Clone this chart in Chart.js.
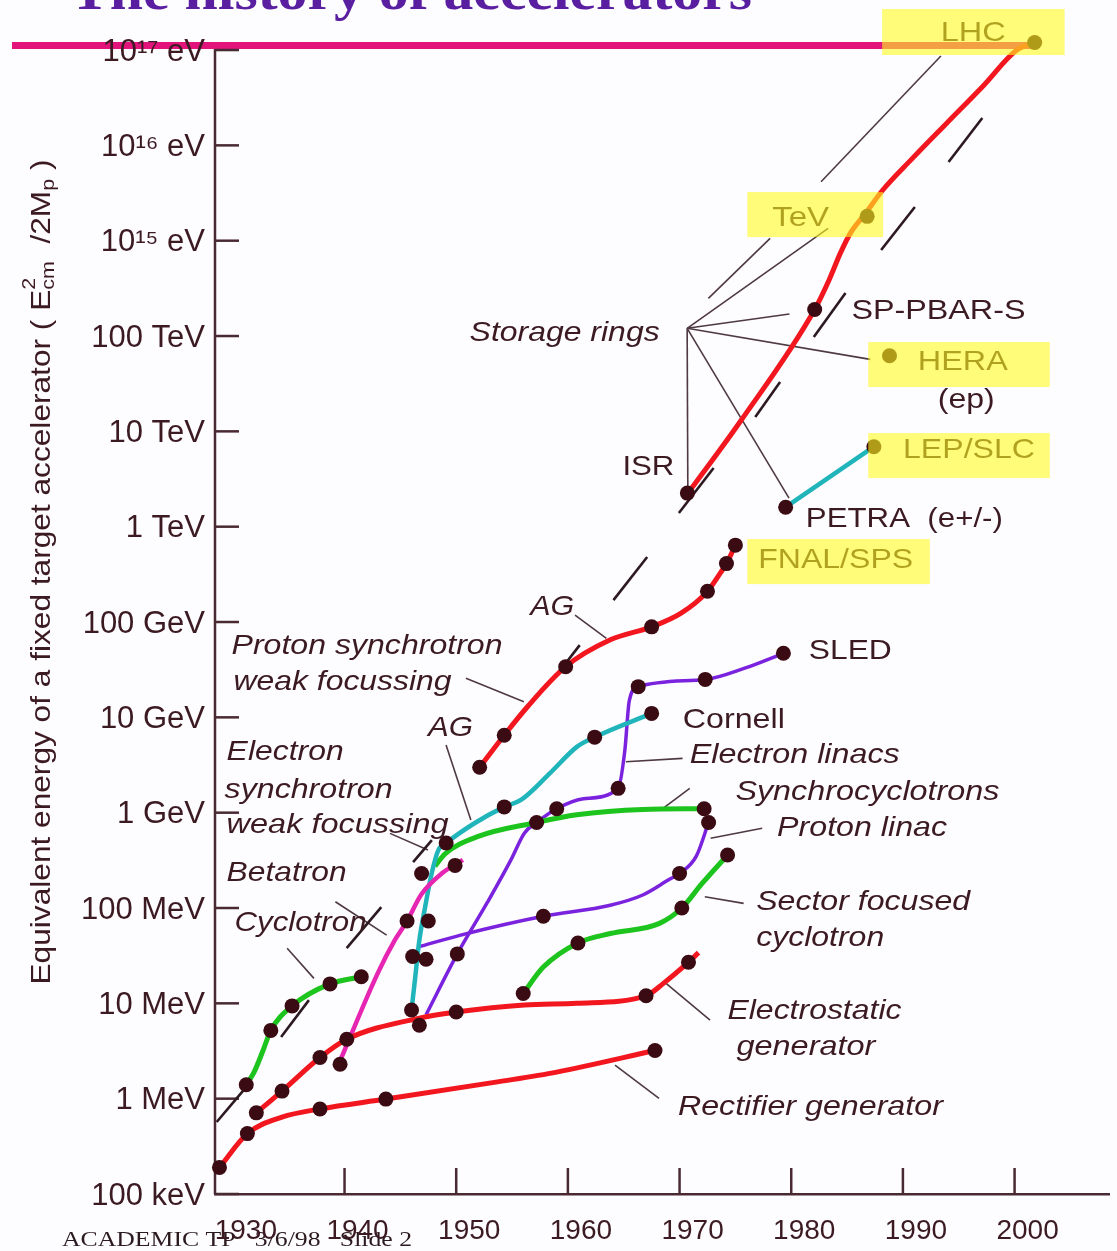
<!DOCTYPE html>
<html>
<head>
<meta charset="utf-8">
<title>The history of accelerators</title>
<script src="https://cdn.jsdelivr.net/npm/chart.js@4.4.1/dist/chart.umd.min.js"></script>
<style>
  html, body { margin: 0; padding: 0; background: #fdfcfe; }
</style>
</head>
<body>
<canvas id="chart" width="1117" height="1251"></canvas>
<script>
// Axis ticks: year along x, equivalent fixed-target energy (eV) along y
const yearTicks = [1930, 1940, 1950, 1960, 1970, 1980, 1990, 2000];
const energyTicks = [1e5, 1e6, 1e7, 1e8, 1e9, 1e10, 1e11, 1e12, 1e13, 1e14, 1e15, 1e16, 1e17];
const energyTickLabels = ['100 keV', '1 MeV', '10 MeV', '100 MeV', '1 GeV', '10 GeV', '100 GeV',
  '1 TeV', '10 TeV', '100 TeV', '10\u00b9\u2075 eV', '10\u00b9\u2076 eV', '10\u00b9\u2077 eV'];

// Each curve is [year, energy in eV]; the *Dots arrays are the machines marked on it
const rectifierCurve = [[1928.8, 1.9e5], [1931.3, 4.3e5], [1934.4, 6.4e5], [1937.8, 7.8e5], [1943.7, 9.9e5], [1953.7, 1.5e6], [1959.0, 1.9e6], [1967.8, 3.2e6]];
const rectifierDots = [[1928.8, 1.9e5], [1931.3, 4.3e5], [1937.8, 7.8e5], [1943.7, 9.9e5], [1967.8, 3.2e6]];

const electrostaticCurve = [[1932.1, 7.1e5], [1934.4, 1.2e6], [1937.8, 2.7e6], [1940.2, 4.2e6], [1946.7, 7.0e6], [1950.0, 8.1e6], [1956.1, 9.6e6], [1960.8, 1.0e7], [1967.0, 1.2e7], [1968.5, 1.6e7], [1970.8, 2.7e7], [1971.7, 3.4e7]];
const electrostaticDots = [[1932.1, 7.1e5], [1934.4, 1.2e6], [1937.8, 2.7e6], [1940.2, 4.2e6], [1946.7, 5.9e6], [1950.0, 8.1e6], [1967.0, 1.2e7], [1970.8, 2.7e7]];

const cyclotronCurve = [[1931.2, 1.4e6], [1931.9, 1.9e6], [1932.7, 3.2e6], [1933.4, 5.2e6], [1935.3, 9.4e6], [1938.7, 1.6e7], [1941.5, 1.9e7]];
const cyclotronDots = [[1931.2, 1.4e6], [1933.4, 5.2e6], [1935.3, 9.4e6], [1938.7, 1.6e7], [1941.5, 1.9e7]];

const betatronCurve = [[1939.6, 2.5e6], [1943.0, 2.1e7], [1944.5, 4.6e7], [1945.6, 7.3e7], [1946.9, 1.4e8], [1948.7, 2.3e8], [1950.6, 3.2e8]];
const betatronDots = [[1939.6, 2.3e6], [1945.6, 7.3e7], [1946.9, 2.3e8], [1949.9, 2.8e8]];

const electronSynchrotronCurve = [[1946.0, 8.5e6], [1946.3, 1.75e7], [1946.7, 4.6e7], [1947.2, 1.0e8], [1947.8, 2.3e8], [1948.4, 4.05e8], [1949.1, 4.8e8], [1951.6, 7.7e8], [1954.3, 1.15e9], [1955.8, 1.36e9], [1958.4, 2.6e9], [1960.8, 4.9e9], [1962.4, 6.2e9], [1967.5, 1.1e10]];
const electronSynchrotronDots = [[1946.0, 8.5e6], [1946.1, 3.1e7], [1947.3, 2.9e7], [1947.5, 7.3e7], [1949.1, 4.8e8], [1954.3, 1.15e9], [1962.4, 6.2e9], [1967.5, 1.1e10]];

const synchrocyclotronCurve = [[1948.1, 2.75e8], [1949.0, 3.7e8], [1951.9, 5.6e8], [1957.2, 7.9e8], [1960.8, 9.5e8], [1966.7, 1.08e9], [1972.2, 1.1e9]];
const synchrocyclotronDots = [[1957.2, 7.9e8], [1972.2, 1.1e9]];

const electronLinacCurve = [[1947.3, 7.6e6], [1950.1, 3.3e7], [1952.8, 1.15e8], [1954.9, 3.2e8], [1956.1, 6.1e8], [1957.2, 7.9e8], [1959.0, 1.1e9], [1961.4, 1.4e9], [1964.5, 1.8e9], [1965.1, 4.5e9], [1965.5, 1.5e10], [1966.3, 2.1e10], [1972.3, 2.5e10], [1975.9, 3.3e10], [1979.3, 4.7e10]];
const electronLinacDots = [[1950.1, 3.3e7], [1959.0, 1.1e9], [1964.5, 1.8e9], [1966.3, 2.1e10], [1972.3, 2.5e10], [1979.3, 4.7e10]];

const protonLinacCurve = [[1946.6, 3.9e7], [1950.4, 5.2e7], [1957.8, 8.2e7], [1963.8, 1.07e8], [1966.7, 1.37e8], [1969.1, 2.0e8], [1970.0, 2.3e8], [1971.5, 3.5e8], [1972.6, 7.9e8]];
const protonLinacDots = [[1957.8, 8.2e7], [1970.0, 2.3e8], [1972.6, 7.9e8]];

const sectorCyclotronCurve = [[1956.0, 1.27e7], [1957.8, 2.4e7], [1960.9, 4.3e7], [1963.8, 5.4e7], [1968.2, 6.9e7], [1970.2, 1.0e8], [1972.0, 1.8e8], [1974.3, 3.6e8]];
const sectorCyclotronDots = [[1956.0, 1.27e7], [1960.9, 4.3e7], [1970.2, 1.0e8], [1974.3, 3.6e8]];

const protonSynchrotronCurve = [[1952.1, 3.0e9], [1954.3, 6.5e9], [1956.4, 1.3e10], [1959.8, 3.4e10], [1963.8, 6.5e10], [1967.5, 8.9e10], [1970.1, 1.23e11], [1972.5, 2.1e11], [1973.6, 3.2e11], [1974.2, 4.1e11], [1975.0, 6.4e11]];
const protonSynchrotronDots = [[1952.1, 3.0e9], [1954.3, 6.5e9], [1959.8, 3.4e10], [1967.5, 8.9e10], [1972.5, 2.1e11], [1974.2, 4.1e11], [1975.0, 6.4e11]];

const hadronColliderCurve = [[1970.7, 2.2e12], [1975.5, 1.3e13], [1982.1, 1.9e14], [1983.4, 3.9e14], [1984.4, 7.4e14], [1985.3, 1.2e15], [1986.6, 1.9e15], [1988.2, 3.4e15], [1990.7, 7.0e15], [1993.9, 1.7e16], [1997.1, 4.1e16], [2000.2, 1.0e17], [2001.8, 1.2e17]];
const hadronColliderDots = [[1970.7, 2.25e12], [1982.1, 1.9e14], [1986.8, 1.8e15], [2001.8, 1.2e17]];

const leptonColliderCurve = [[1979.5, 1.6e12], [1987.4, 6.9e12]];
const leptonColliderDots = [[1979.5, 1.6e12], [1987.4, 6.9e12]];
const heraDots = [[1988.8, 6.2e13]];

// Annotations, placed in data units: year and log10(eV)
const leaderLines = [
  [1934.86, 7.577, 1937.26, 7.262], [1939.18, 8.066, 1943.77, 7.716], [1944.07, 8.783, 1947.47, 8.608],
  [1949.09, 9.709, 1951.31, 8.923], [1950.87, 10.409, 1956.06, 10.164], [1960.64, 11.073, 1963.45, 10.829],
  [1965.19, 9.534, 1970.27, 9.570], [1968.52, 9.046, 1970.91, 9.255], [1972.78, 8.731, 1977.40, 8.836],
  [1972.26, 8.118, 1975.74, 8.049], [1968.79, 7.210, 1972.73, 6.825], [1964.22, 6.353, 1968.16, 6.003],
  // storage rings fan
  [1970.68, 14.081, 1979.84, 14.231], [1970.68, 14.081, 1987.08, 13.755], [1970.68, 14.081, 1983.30, 15.130],
  [1972.58, 14.395, 1978.11, 15.025], [1982.67, 15.618, 1993.40, 16.937],
  [1970.68, 14.081, 1970.74, 12.416], [1970.68, 14.081, 1979.80, 12.300]
];
const slashMarks = [
  [1928.55, 5.755, 1931.04, 6.101], [1934.32, 6.646, 1936.81, 7.034], [1940.19, 7.580, 1943.29, 8.010],
  [1946.14, 8.482, 1947.82, 8.713], [1953.68, 9.709, 1955.02, 9.919], [1959.19, 10.475, 1961.06, 10.758],
  [1964.08, 11.230, 1967.10, 11.682], [1969.94, 12.143, 1973.05, 12.615], [1976.78, 13.150, 1979.00, 13.517],
  [1982.02, 13.989, 1984.86, 14.451], [1988.05, 14.902, 1991.07, 15.353], [1994.09, 15.825, 1997.11, 16.287]
];
const textLabels = [
  { t: 'LHC', year: 1993.38, logE: 17.178, w: 65 },
  { t: 'TeV', year: 1978.29, logE: 15.238, w: 57 },
  { t: 'Storage rings', year: 1951.20, logE: 14.031, w: 190, it: true },
  { t: 'SP-PBAR-S', year: 1985.39, logE: 14.262, w: 174 },
  { t: 'HERA', year: 1991.34, logE: 13.727, w: 90 },
  { t: '(ep)', year: 1993.12, logE: 13.329, w: 57 },
  { t: 'ISR', year: 1964.88, logE: 12.626, w: 52 },
  { t: 'LEP/SLC', year: 1990.01, logE: 12.804, w: 132 },
  { t: 'PETRA  (e+/-)', year: 1981.31, logE: 12.080, w: 197 },
  { t: 'FNAL/SPS', year: 1977.04, logE: 11.650, w: 155 },
  { t: 'SLED', year: 1981.57, logE: 10.696, w: 83 },
  { t: 'Cornell', year: 1970.29, logE: 9.972, w: 102 },
  { t: 'Electron linacs', year: 1970.91, logE: 9.605, w: 210, it: true },
  { t: 'Synchrocyclotrons', year: 1975.00, logE: 9.216, w: 264, it: true },
  { t: 'Proton linac', year: 1978.73, logE: 8.839, w: 170, it: true },
  { t: 'Sector focused', year: 1976.86, logE: 8.063, w: 214, it: true },
  { t: 'cyclotron', year: 1976.86, logE: 7.685, w: 128, it: true },
  { t: 'Electrostatic', year: 1974.29, logE: 6.919, w: 174, it: true },
  { t: 'generator', year: 1975.09, logE: 6.542, w: 139, it: true },
  { t: 'Rectifier generator', year: 1969.85, logE: 5.912, w: 265, it: true },
  { t: 'Proton synchrotron', year: 1929.88, logE: 10.748, w: 271, it: true },
  { t: 'weak focussing', year: 1930.06, logE: 10.370, w: 218, it: true },
  { t: 'AG', year: 1956.62, logE: 11.157, w: 44, it: true },
  { t: 'AG', year: 1947.47, logE: 9.888, w: 45, it: true },
  { t: 'Electron', year: 1929.44, logE: 9.636, w: 117, it: true },
  { t: 'synchrotron', year: 1929.26, logE: 9.237, w: 168, it: true },
  { t: 'weak focussing', year: 1929.44, logE: 8.870, w: 222, it: true },
  { t: 'Betatron', year: 1929.44, logE: 8.367, w: 120, it: true },
  { t: 'Cyclotron', year: 1930.15, logE: 7.842, w: 132, it: true }
];
const highlightBoxes = [
  [1988.14, 17.430, 2004.48, 16.948], [1976.07, 15.510, 1988.23, 15.038], [1986.90, 13.937, 2003.15, 13.465],
  [1986.90, 12.982, 2003.15, 12.510], [1976.07, 11.870, 1992.41, 11.398]
];

const INK = '#3b1a22';
const AXIS = '#4a2a32';
const DOT = '#3a0b12';
const RED = '#f2161f', GREEN = '#1ec41e', CYAN = '#1fb5bb', PURPLE = '#7a22de', MAGENTA = '#e626b2';
const SANS = '"Liberation Sans", Arial, sans-serif';

function toXY(points) {
  return points.map(p => ({ x: p[0], y: p[1] }));
}
function curveSet(points, color, width) {
  return {
    data: toXY(points), showLine: true, borderColor: color, borderWidth: width,
    pointRadius: 0, cubicInterpolationMode: 'monotone', fill: false, order: 2, clip: false
  };
}
function dotSet(points) {
  return {
    data: toXY(points), showLine: false, pointRadius: 7.5, pointBackgroundColor: DOT,
    pointBorderWidth: 0, order: 1, clip: false
  };
}

function fitText(ctx, text, x, y, width) {
  const w = ctx.measureText(text).width;
  ctx.save();
  ctx.translate(x, y);
  ctx.scale(width / w, 1);
  ctx.fillText(text, 0, 0);
  ctx.restore();
}
function line(ctx, x1, y1, x2, y2) {
  ctx.beginPath();
  ctx.moveTo(x1, y1);
  ctx.lineTo(x2, y2);
  ctx.stroke();
}

// Rotated y title with E_cm^2 / 2M_p
function drawAxisTitle(ctx, cx, cy, length) {
  const big = '28px ' + SANS, small = '19px ' + SANS;
  const parts = [
    { t: 'Equivalent energy of a fixed target accelerator ( E', f: big, dy: 0 },
    { t: '2', f: small, dy: -12, keep: true },
    { t: 'cm', f: small, dy: 7 },
    { t: '  /2M', f: big, dy: 0 },
    { t: 'p', f: small, dy: 7 },
    { t: ' )', f: big, dy: 0 }
  ];
  let total = 0;
  parts.forEach(p => { ctx.font = p.f; p.w = ctx.measureText(p.t).width; if (!p.keep) total += p.w; });
  ctx.save();
  ctx.translate(cx, cy);
  ctx.rotate(-Math.PI / 2);
  ctx.scale(length / total, 1);
  ctx.fillStyle = INK;
  ctx.textBaseline = 'middle';
  let x = -total / 2;
  parts.forEach(p => {
    ctx.font = p.f;
    ctx.fillText(p.t, x, p.dy);
    if (!p.keep) x += p.w;
  });
  ctx.restore();
}

const accelPlugin = {
  id: 'accelDecor',
  beforeDraw(chart) {
    const ctx = chart.ctx;
    ctx.save();
    ctx.fillStyle = '#fdfcfe';
    ctx.fillRect(0, 0, chart.width, chart.height);
    // slide title, cut by the top edge
    ctx.font = 'bold 54px "Liberation Serif", "Times New Roman", serif';
    ctx.fillStyle = '#5a1fa0';
    ctx.textBaseline = 'alphabetic';
    fitText(ctx, 'The history of accelerators', 70, 9, 682);
    // header rule
    ctx.fillStyle = '#e2147c';
    ctx.fillRect(12, 42, 1020, 7);
    // footer
    ctx.font = '22px "Liberation Serif", "Times New Roman", serif';
    ctx.fillStyle = '#2b1a1e';
    fitText(ctx, 'ACADEMIC TP   3/6/98   Slide 2', 62, 1246, 350);
    ctx.restore();
  },
  beforeDatasetsDraw(chart) {
    const ctx = chart.ctx;
    const xs = chart.scales.x, ys = chart.scales.y, area = chart.chartArea;
    const P = (yr, e) => [xs.getPixelForValue(yr), ys.getPixelForValue(Math.pow(10, e))];
    ctx.save();
    drawAxisTitle(ctx, 42, 572, 825);
    // y axis line starts at the top tick; tick marks point into the plot
    ctx.strokeStyle = AXIS;
    ctx.lineWidth = 2.5;
    const yTop = ys.getPixelForValue(energyTicks[energyTicks.length - 1]);
    line(ctx, area.left, yTop - 1, area.left, area.bottom);
    energyTicks.forEach(v => {
      const y = ys.getPixelForValue(v);
      line(ctx, area.left, y, area.left + 24, y);
    });
    yearTicks.slice(1).forEach(v => {
      const x = xs.getPixelForValue(v);
      line(ctx, x, area.bottom, x, area.bottom - 26);
    });
    // leader lines
    ctx.strokeStyle = '#4e3a40';
    ctx.lineWidth = 1.6;
    leaderLines.forEach(l => {
      const a = P(l[0], l[1]), b = P(l[2], l[3]);
      line(ctx, a[0], a[1], b[0], b[1]);
    });
    // envelope dashes
    ctx.strokeStyle = '#2c1a20';
    ctx.lineWidth = 2.6;
    slashMarks.forEach(l => {
      const a = P(l[0], l[1]), b = P(l[2], l[3]);
      line(ctx, a[0], a[1], b[0], b[1]);
    });
    ctx.restore();
  },
  afterDatasetsDraw(chart) {
    const ctx = chart.ctx;
    const xs = chart.scales.x, ys = chart.scales.y;
    const P = (yr, e) => [xs.getPixelForValue(yr), ys.getPixelForValue(Math.pow(10, e))];
    ctx.save();
    ctx.fillStyle = INK;
    ctx.textBaseline = 'middle';
    textLabels.forEach(l => {
      ctx.font = (l.it ? 'italic ' : '') + '28px ' + SANS;
      const p = P(l.year, l.logE);
      fitText(ctx, l.t, p[0], p[1], l.w);
    });
    // yellow highlighter
    ctx.fillStyle = 'rgba(255, 252, 30, 0.6)';
    highlightBoxes.forEach(b => {
      const a = P(b[0], b[1]), c = P(b[2], b[3]);
      ctx.fillRect(a[0], a[1], c[0] - a[0], c[1] - a[1]);
    });
    ctx.restore();
  }
};

const datasets = [
  dotSet(rectifierDots), dotSet(electrostaticDots), dotSet(cyclotronDots), dotSet(betatronDots),
  dotSet(electronSynchrotronDots), dotSet(synchrocyclotronDots), dotSet(electronLinacDots),
  dotSet(protonLinacDots), dotSet(sectorCyclotronDots), dotSet(protonSynchrotronDots),
  dotSet(hadronColliderDots), dotSet(leptonColliderDots), dotSet(heraDots),
  curveSet(rectifierCurve, RED, 5),
  curveSet(electrostaticCurve, RED, 5),
  curveSet(cyclotronCurve, GREEN, 5),
  curveSet(betatronCurve, MAGENTA, 4.5),
  curveSet(electronSynchrotronCurve, CYAN, 4.5),
  curveSet(synchrocyclotronCurve, GREEN, 5),
  curveSet(electronLinacCurve, PURPLE, 3.5),
  curveSet(protonLinacCurve, PURPLE, 3.5),
  curveSet(sectorCyclotronCurve, GREEN, 5),
  curveSet(protonSynchrotronCurve, RED, 5),
  curveSet(hadronColliderCurve, RED, 5),
  curveSet(leptonColliderCurve, CYAN, 4.5)
];

new Chart(document.getElementById('chart'), {
  type: 'scatter',
  data: { datasets: datasets },
  options: {
    responsive: false,
    animation: false,
    events: [],
    layout: { padding: { top: 40.5, right: 0, bottom: 0, left: 0 } },
    plugins: { legend: { display: false }, tooltip: { enabled: false } },
    scales: {
      x: {
        type: 'linear',
        min: 1928.4,
        max: 2008.5,
        afterBuildTicks: s => { s.ticks = yearTicks.map(v => ({ value: v })); },
        afterFit: s => { s.height = 57; },
        grid: { display: false, drawTicks: false },
        border: { display: true, color: AXIS, width: 2.5 },
        ticks: {
          autoSkip: false, maxRotation: 0, padding: 20, labelOffset: 13,
          color: INK, font: { family: 'Liberation Sans', size: 28 },
          callback: v => String(v)
        }
      },
      y: {
        type: 'logarithmic',
        min: 1e5,
        max: Math.pow(10, 17.1),
        afterBuildTicks: s => { s.ticks = energyTicks.map(v => ({ value: v })); },
        afterFit: s => { s.width = 215; },
        grid: { display: false, drawTicks: false },
        border: { display: false },
        ticks: {
          autoSkip: false, padding: 10, labelOffset: 2,
          color: INK, font: { family: 'Liberation Sans', size: 31 },
          callback: (v, i) => energyTickLabels[i]
        }
      }
    }
  },
  plugins: [accelPlugin]
});
</script>
</body>
</html>
